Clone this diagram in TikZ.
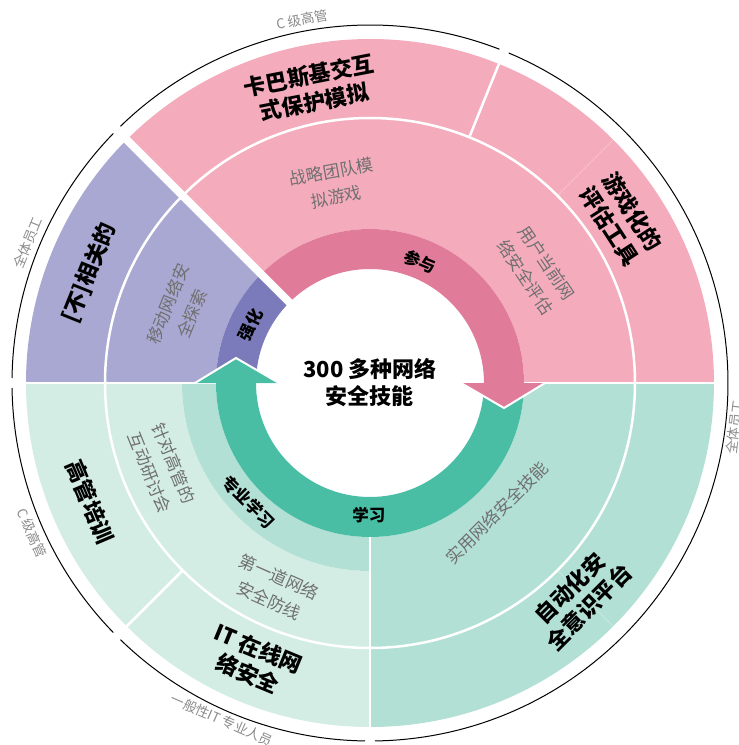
\documentclass[tikz,border=0pt]{standalone}
\usepackage{fontspec}
\setmainfont{Noto Sans CJK SC}
\usepackage{tikz}
\usepackage{xcolor}
\usetikzlibrary{calc}
\definecolor{pink1}{HTML}{F4ACBD}
\definecolor{pink2}{HTML}{E07B9A}
\definecolor{purple1}{HTML}{A8A8D2}
\definecolor{purple2}{HTML}{7B7BBB}
\definecolor{teal1}{HTML}{4ABEA5}
\definecolor{teal2}{HTML}{B3E0D4}
\definecolor{teal3}{HTML}{D3EDE5}
\definecolor{gray1}{HTML}{707070}
\definecolor{gray2}{HTML}{8A8A8A}

\begin{document}
\begin{tikzpicture}[x=1pt,y=1pt,
  big/.style={font=\bfseries\fontsize{22}{27}\selectfont,align=center},
  mid/.style={text=gray1,font=\fontsize{17}{26}\selectfont,align=center},
  ring/.style={font=\bfseries\fontsize{16.5}{18}\selectfont},
  rim/.style={text=gray2,font=\fontsize{13.5}{15}\selectfont},
  gap/.style={white,line width=2.5pt}]

\useasboundingbox (-370,-362) rectangle (369,383);

\fill[pink1] (0:154) -- (0:344) arc (0:135:344) -- (135:154) arc (135:0:154) -- cycle;
\fill[purple1] (135:154) -- (135:344) arc (135:180:344) -- (180:154) arc (180:135:154) -- cycle;
\fill[teal2] (270:154) -- (270:344) arc (270:360:344) -- (0:154) arc (360:270:154) -- cycle;
\fill[teal3] (180:188) -- (180:344) arc (180:270:344) -- (270:188) arc (270:180:188) -- cycle;
\fill[teal2] (180:154) -- (180:188) arc (180:270:188) -- (270:154) arc (270:180:154) -- cycle;

\fill[purple2] (135:114) -- (135:154) arc (135:180:154) -- (180:114) arc (180:135:114) -- cycle;
\fill[pink2] (0:114) -- (0:154) arc (0:135:154) -- (135:114) arc (135:0:114) -- cycle;
\fill[teal1] (180:114) -- (180:154) arc (180:360:154) -- (0:114) arc (360:180:114) -- cycle;

\draw[pink1!70!white,line width=0.6pt] (45:266) -- (45:343);
\draw[teal2!60!white,line width=0.6pt] (-45:266) -- (-45:343);

\draw[gap] (0,0) circle (265);
\draw[gap] (0:154) -- (0:345);
\draw[gap] (180:154) -- (180:345);
\draw[gap] (270:154) -- (270:345);
\draw[gap] (68:265) -- (68:345);
\draw[gap] (225:265) -- (225:345);

\fill[pink2] (91,0) -- (175,0) -- (134,-25) -- cycle;
\draw[white,line width=2pt] (175,0) -- (134,-25) -- (91,0);
\fill[teal1] (-91,0) -- (-175,0) -- (-134,25) -- cycle;
\draw[white,line width=2pt] (-175,0) -- (-134,25) -- (-91,0);

\draw[white,line width=8pt] (135:105) -- (135:352);

\draw[line width=1pt] (-89.2:358) arc (-89.2:67.2:358);
\draw[line width=1pt] (68.8:358) arc (68.8:134.2:358);
\draw[line width=1pt] (135.8:358) arc (135.8:179.2:358);
\draw[line width=1pt] (180.8:358) arc (180.8:224.2:358);
\draw[line width=1pt] (225.8:358) arc (225.8:269.2:358);

\node[big] (core) at (0,0) {300 多种网络\\安全技能};

\node[ring,rotate=-22.5] (join) at (67.5:131) {参与};
\node[ring] (learn) at (-90.5:132) {学习};
\node[ring,rotate=64] (boost) at (154:133) {强化};
\node[ring,rotate=-45] (pro) at (224.5:170) {专业学习};

\node[mid,rotate=10.5] (strat) at (100.3:202) {战略团队模\\拟游戏};
\node[mid,rotate=-56] (user) at (34.2:201) {用户当前网\\络安全评估};
\node[mid,rotate=68] (mobile) at (158.7:204) {移动网络安\\全探索};
\node[mid,rotate=45] (skill) at (-45.7:182) {实用网络安全技能};
\node[mid,rotate=-68] (seminar) at (202.2:225) {针对高管的\\互动研讨会};
\node[mid,rotate=-24] (first) at (245:227) {第一道网络\\安全防线};

\node[big,rotate=11] (kaba) at (101.2:300) {卡巴斯基交互\\式保护模拟};
\node[big,rotate=-57] (game) at (33.2:300) {游戏化的\\评估工具};
\node[big,rotate=68] (irrel) at (158.6:302) {[不]相关的};
\node[big,rotate=-67] (exec) at (203:304) {高管培训};
\node[big,rotate=-22.5] (itsec) at (247.2:302) {IT 在线网\\络安全};
\node[big,rotate=45] (auto) at (-45.7:300) {自动化安\\全意识平台};

\node[rim,rotate=10.6] (rimc1) at (100.6:370) {C 级高管};
\node[rim,rotate=67.7] (rimall1) at (157.7:370) {全体员工};
\node[rim,rotate=83] (rimall2) at (-6.9:367) {全体员工};
\node[rim,rotate=-66] (rimc2) at (203.9:370) {C 级高管};
\node[rim,rotate=-23.7] (rimit) at (246.3:368) {一般性IT 专业人员};

\end{tikzpicture}
\end{document}
